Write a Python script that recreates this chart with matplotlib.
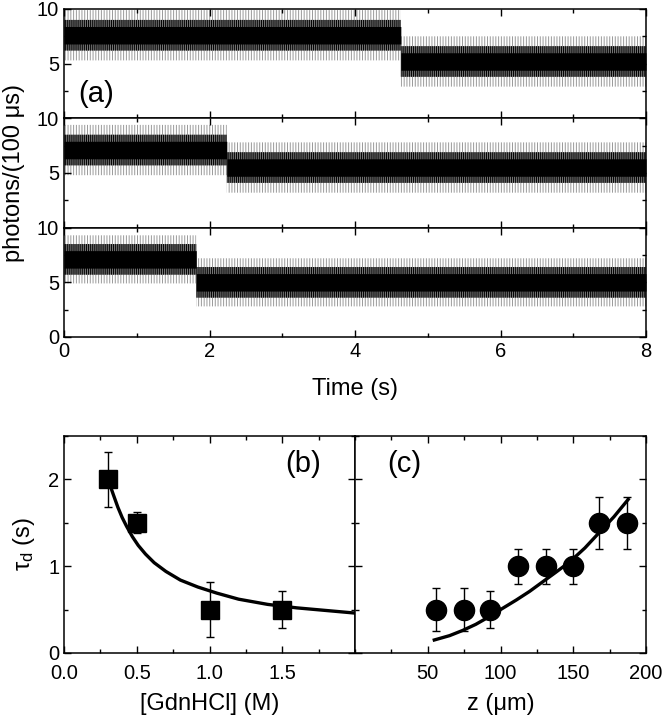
import numpy as np
import matplotlib.pyplot as plt
from matplotlib.ticker import MultipleLocator, FixedLocator, FuncFormatter

plt.rcParams['font.family'] = ['Liberation Sans', 'DejaVu Sans']
plt.rcParams['mathtext.fontset'] = 'custom'
plt.rcParams['mathtext.rm'] = 'Liberation Sans'
plt.rcParams['mathtext.it'] = 'Liberation Sans'
plt.rcParams['hatch.linewidth'] = 0.7

# (a) photon traces: step time, level before, level after, core / mid / outer spread
step_t = [4.63, 2.24, 1.82]
level_before = [7.6, 7.1, 7.1]
level_after = [5.2, 5.5, 5.0]
core_spread = [0.8, 0.8, 0.8]
mid_spread = [1.4, 1.4, 1.4]
outer_spread = [2.3, 2.3, 2.2]
t_end = 8.0

# (b) decay time vs GdnHCl
gdn = [0.3, 0.5, 1.0, 1.5]
tau_b = [2.0, 1.5, 0.5, 0.5]
err_b = [0.32, 0.12, 0.32, 0.21]
fit_b_x = [0.315, 0.34, 0.37, 0.40, 0.43, 0.47, 0.51, 0.56, 0.62, 0.70,
           0.80, 0.92, 1.05, 1.2, 1.4, 1.6, 1.8, 2.0]
fit_b_y = [1.94, 1.82, 1.68, 1.56, 1.46, 1.34, 1.24, 1.14, 1.04, 0.94,
           0.84, 0.76, 0.69, 0.62, 0.56, 0.52, 0.49, 0.46]

# (c) decay time vs z
z = [56, 75, 93, 112, 131, 150, 168, 187]
tau_c = [0.5, 0.5, 0.5, 1.0, 1.0, 1.0, 1.5, 1.5]
err_c = [0.25, 0.25, 0.21, 0.2, 0.2, 0.2, 0.3, 0.3]
fit_c_x = [54.5, 65, 74, 83, 92.4, 101, 110.8, 120, 129, 138, 147.6, 158, 168, 178, 187.8]
fit_c_y = [0.15, 0.20, 0.26, 0.33, 0.42, 0.51, 0.61, 0.71, 0.82, 0.93, 1.05, 1.21, 1.39, 1.57, 1.77]

W, H = 664, 719
fig = plt.figure(figsize=(W / 100, H / 100), dpi=100)

tick_fs = 14.5
label_fs = 17
panel_fs = 21

def style(ax):
    ax.tick_params(which='both', direction='in', top=True, right=True,
                   labelsize=tick_fs, width=1)
    ax.tick_params(which='major', length=5)
    ax.tick_params(which='minor', length=3)
    for s in ax.spines.values():
        s.set_linewidth(1.1)

# top traces
left, right = 64 / W, 646 / W
top_y, bot_y = 1 - 9 / H, 1 - 337 / H
ph = (top_y - bot_y) / 3
trace_axes = []
for i in range(3):
    ax = fig.add_axes([left, top_y - (i + 1) * ph, right - left, ph])
    t = np.linspace(0, t_end, 2001)
    lev = np.where(t < step_t[i], level_before[i], level_after[i])
    ax.fill_between(t, lev - outer_spread[i], lev + outer_spread[i],
                    facecolor='none', edgecolor='0.6', hatch='||||||',
                    linewidth=0, step='mid')
    ax.fill_between(t, lev - mid_spread[i], lev + mid_spread[i],
                    facecolor='0.45', edgecolor='black', hatch='||||||||',
                    linewidth=0, step='mid')
    ax.fill_between(t, lev - core_spread[i], lev + core_spread[i],
                    color='black', linewidth=0, step='mid')
    ax.set_xlim(0, 8)
    ax.set_ylim(0, 10)
    ax.xaxis.set_major_locator(MultipleLocator(2))
    ax.xaxis.set_minor_locator(MultipleLocator(1))
    ax.yaxis.set_major_locator(MultipleLocator(5))
    ax.yaxis.set_minor_locator(MultipleLocator(2.5))
    style(ax)
    if i < 2:
        ax.tick_params(labelbottom=False)
        ax.yaxis.set_major_formatter(FuncFormatter(lambda v, p: '' if v == 0 else '%d' % v))
    trace_axes.append(ax)

trace_axes[0].text(0.2, 1.5, '(a)', fontsize=panel_fs)
trace_axes[2].set_xlabel('Time (s)', fontsize=label_fs, labelpad=12)
fig.text(0.004, (top_y + bot_y) / 2, 'photons/(100 \u03bcs)', rotation=90,
         fontsize=label_fs, ha='left', va='center')

# bottom panels
b_top, b_bot = 1 - 436 / H, 1 - 653 / H
mid = 355 / W
axb = fig.add_axes([left, b_bot, mid - left, b_top - b_bot])
axc = fig.add_axes([mid, b_bot, right - mid, b_top - b_bot])

axb.plot(fit_b_x, fit_b_y, color='black', lw=2.4, zorder=2)
axb.errorbar(gdn, tau_b, yerr=err_b, fmt='s', color='black', ms=13.5,
             capsize=3, elinewidth=1, capthick=1, zorder=3)
axb.set_xlim(0, 2.0)
axb.set_ylim(0, 2.5)
axb.xaxis.set_major_locator(FixedLocator([0.0, 0.5, 1.0, 1.5]))
axb.xaxis.set_minor_locator(MultipleLocator(0.25))
axb.xaxis.set_major_formatter(FuncFormatter(lambda v, p: '%.1f' % v))
axb.yaxis.set_major_locator(MultipleLocator(1))
axb.yaxis.set_minor_locator(MultipleLocator(0.5))
style(axb)
axb.tick_params(axis='x', pad=8)
axb.set_xlabel('[GdnHCl] (M)', fontsize=label_fs, labelpad=7)
axb.set_ylabel(r'$\tau_{\rm d}$ (s)', fontsize=label_fs, labelpad=8)
axb.text(1.52, 2.08, '(b)', fontsize=panel_fs)

axc.plot(fit_c_x, fit_c_y, color='black', lw=2.4, zorder=2)
axc.errorbar(z, tau_c, yerr=err_c, fmt='o', color='black', ms=14.5,
             capsize=3, elinewidth=1, capthick=1, zorder=3)
axc.set_xlim(0, 200)
axc.set_ylim(0, 2.5)
axc.xaxis.set_major_locator(FixedLocator([50, 100, 150, 200]))
axc.xaxis.set_minor_locator(MultipleLocator(25))
axc.yaxis.set_major_locator(MultipleLocator(1))
axc.yaxis.set_minor_locator(MultipleLocator(0.5))
style(axc)
axc.tick_params(labelleft=False)
axc.tick_params(axis='x', pad=8)
axc.set_xlabel('z (\u03bcm)', fontsize=label_fs, labelpad=7)
axc.text(22, 2.08, '(c)', fontsize=panel_fs)

fig.savefig('out.png', dpi=100)
